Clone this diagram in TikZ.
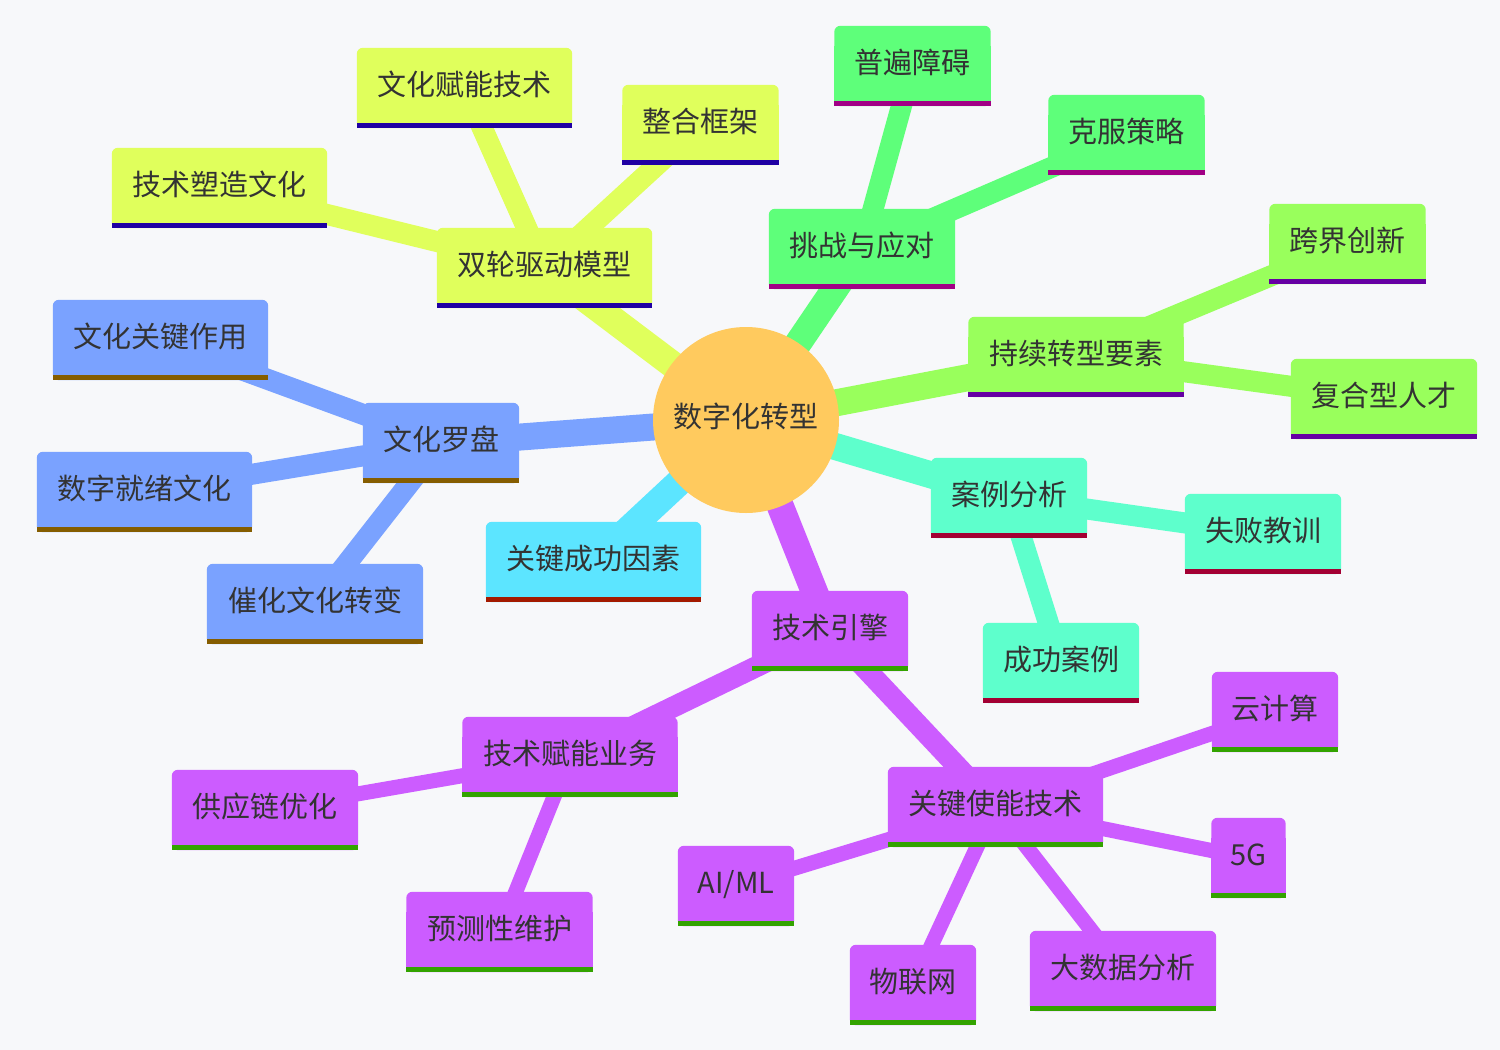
\documentclass[tikz,border=0pt]{standalone}
\usepackage{fontspec}
\setmainfont{Noto Sans CJK SC}
\pgfdeclarelayer{bg}
\pgfdeclarelayer{edges}
\pgfdeclarelayer{boxes}
\pgfsetlayers{bg,edges,boxes,main}
\definecolor{bgc}{HTML}{F7F8FA}
\definecolor{txt}{HTML}{333333}
\definecolor{rootF}{HTML}{FFCA5E}
\definecolor{blueF}{HTML}{7AA2FF}\definecolor{blueB}{HTML}{855D00}
\definecolor{cyanF}{HTML}{5CE5FF}\definecolor{cyanB}{HTML}{A31A00}
\definecolor{yellowF}{HTML}{E0FF5C}\definecolor{yellowB}{HTML}{1F00A3}
\definecolor{greenF}{HTML}{5EFF7A}\definecolor{greenB}{HTML}{A10085}
\definecolor{limeF}{HTML}{99FF5C}\definecolor{limeB}{HTML}{6600A3}
\definecolor{aquaF}{HTML}{5EFFCC}\definecolor{aquaB}{HTML}{A30033}
\definecolor{purpleF}{HTML}{CC5CFF}\definecolor{purpleB}{HTML}{33A300}
\tikzset{
  mmfont/.style={font=\fontsize{29pt}{34pt}\selectfont, text=txt},
  mmtext/.style={mmfont, inner sep=0pt, minimum height=80pt, text height=22pt, text depth=7.6pt},
  rootnode/.style={mmfont, circle, fill=rootF, minimum size=186pt, inner sep=0pt, text height=22pt, text depth=7.6pt},
  e0/.style={line width=27pt},
  e1/.style={line width=21pt},
  e2/.style={line width=15pt}
}
\newcommand\mmbox[6]{%
  \node[mmtext, minimum width=#4pt] (#1) at (#2,#3) {#6};
  \begin{pgfonlayer}{boxes}
    \fill[#5F, rounded corners=6pt] (#1.north west) rectangle (#1.south east);
    \fill[#5F] ([yshift=-20pt]#1.north west) rectangle (#1.south east);
    \fill[#5B] ([yshift=5pt]#1.south west) rectangle (#1.south east);
  \end{pgfonlayer}
}
\begin{document}
\begin{tikzpicture}[x=1pt,y=-1pt]
\useasboundingbox (0,0) rectangle (1500,1050);
\begin{pgfonlayer}{bg}
  \fill[bgc] (0,0) rectangle (1500,1050);
\end{pgfonlayer}

\node[rootnode] (root) at (746,420) {数字化转型};

\mmbox{wl}{441}{443}{156}{blue}{文化罗盘}
\mmbox{wlA}{160.5}{340}{215}{blue}{文化关键作用}
\mmbox{wlB}{144.5}{492}{215}{blue}{数字就绪文化}
\mmbox{wlC}{315}{604}{216}{blue}{催化文化转变}

\mmbox{ks}{593.5}{562}{215}{cyan}{关键成功因素}

\mmbox{sl}{544.5}{268}{215}{yellow}{双轮驱动模型}
\mmbox{slA}{464.5}{88}{215}{yellow}{文化赋能技术}
\mmbox{slB}{700.5}{125}{156}{yellow}{整合框架}
\mmbox{slC}{219.5}{188}{215}{yellow}{技术塑造文化}

\mmbox{tz}{862}{249}{186}{green}{挑战与应对}
\mmbox{tzA}{912.5}{66}{156}{green}{普遍障碍}
\mmbox{tzB}{1126.5}{135}{156}{green}{克服策略}

\mmbox{cx}{1076}{357}{215}{lime}{持续转型要素}
\mmbox{cxA}{1347.5}{244}{156}{lime}{跨界创新}
\mmbox{cxB}{1384}{399}{186}{lime}{复合型人才}

\mmbox{al}{1009}{498}{156}{aqua}{案例分析}
\mmbox{alA}{1263}{534}{156}{aqua}{失败教训}
\mmbox{alB}{1061}{663}{156}{aqua}{成功案例}

\mmbox{jy}{830}{631}{156}{purple}{技术引擎}
\mmbox{jyA}{570}{757}{215}{purple}{技术赋能业务}
\mmbox{jyAa}{265}{810}{186}{purple}{供应链优化}
\mmbox{jyAb}{499.5}{932}{186}{purple}{预测性维护}
\mmbox{jyB}{995.5}{807}{215}{purple}{关键使能技术}
\mmbox{jyBa}{1275}{712}{126}{purple}{云计算}
\mmbox{jyBb}{1248.5}{858}{74}{purple}{5G}
\mmbox{jyBc}{736}{886}{116}{purple}{AI/ML}
\mmbox{jyBd}{913}{985}{126}{purple}{物联网}
\mmbox{jyBe}{1123}{971}{186}{purple}{大数据分析}

\begin{pgfonlayer}{edges}
  \draw[e0, blueF] (root.center) -- (wl.center);
  \draw[e0, cyanF] (root.center) -- (ks.center);
  \draw[e0, yellowF] (root.center) -- (sl.center);
  \draw[e0, greenF] (root.center) -- (tz.center);
  \draw[e0, limeF] (root.center) -- (cx.center);
  \draw[e0, aquaF] (root.center) -- (al.center);
  \draw[e0, purpleF] (root.center) -- (jy.center);

  \draw[e1, blueF] (wl.center) -- (wlA.center);
  \draw[e1, blueF] (wl.center) -- (wlB.center);
  \draw[e1, blueF] (wl.center) -- (wlC.center);
  \draw[e1, yellowF] (sl.center) -- (slA.center);
  \draw[e1, yellowF] (sl.center) -- (slB.center);
  \draw[e1, yellowF] (sl.center) -- (slC.center);
  \draw[e1, greenF] (tz.center) -- (tzA.center);
  \draw[e1, greenF] (tz.center) -- (tzB.center);
  \draw[e1, limeF] (cx.center) -- (cxA.center);
  \draw[e1, limeF] (cx.center) -- (cxB.center);
  \draw[e1, aquaF] (al.center) -- (alA.center);
  \draw[e1, aquaF] (al.center) -- (alB.center);
  \draw[e1, purpleF] (jy.center) -- (jyA.center);
  \draw[e1, purpleF] (jy.center) -- (jyB.center);

  \draw[e2, purpleF] (jyA.center) -- (jyAa.center);
  \draw[e2, purpleF] (jyA.center) -- (jyAb.center);
  \draw[e2, purpleF] (jyB.center) -- (jyBa.center);
  \draw[e2, purpleF] (jyB.center) -- (jyBb.center);
  \draw[e2, purpleF] (jyB.center) -- (jyBc.center);
  \draw[e2, purpleF] (jyB.center) -- (jyBd.center);
  \draw[e2, purpleF] (jyB.center) -- (jyBe.center);
\end{pgfonlayer}
\end{tikzpicture}
\end{document}
